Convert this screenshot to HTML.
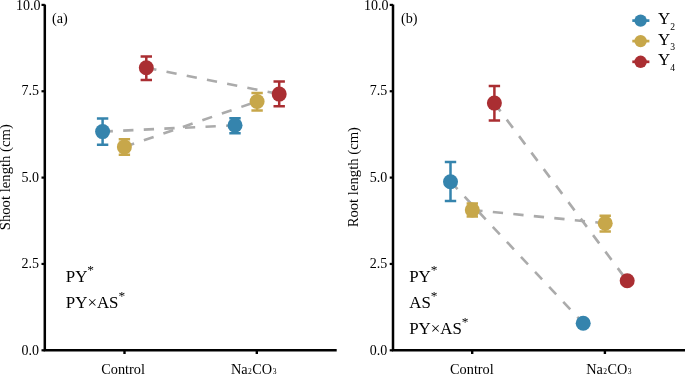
<!DOCTYPE html>
<html><head><meta charset="utf-8"><title>Figure</title>
<style>
html,body{margin:0;padding:0;background:#fff;}
svg{display:block;transform:translateZ(0);will-change:transform;font-family:"Liberation Serif", "DejaVu Serif", serif;fill:#000;}
</style></head>
<body>
<svg width="685" height="375" viewBox="0 0 685 375">
<rect width="685" height="375" fill="#fff"/>
<g>
<line x1="102.6" y1="131.6" x2="235.0" y2="125.3" stroke="#ababab" stroke-width="2.6" stroke-dasharray="10.3 10.3"/>
<line x1="124.4" y1="146.9" x2="257.1" y2="101.5" stroke="#ababab" stroke-width="2.6" stroke-dasharray="10.3 10.3"/>
<line x1="146.3" y1="67.8" x2="279.2" y2="94.1" stroke="#ababab" stroke-width="2.6" stroke-dasharray="10.3 10.3"/>
<path d="M102.6 118.4V144.8M96.9 118.4H108.3M96.9 144.8H108.3" stroke="#3584ad" stroke-width="2.5" fill="none"/>
<circle cx="102.6" cy="131.6" r="7.5" fill="#3584ad"/>
<path d="M235.0 118.2V133.2M229.3 118.2H240.7M229.3 133.2H240.7" stroke="#3584ad" stroke-width="2.5" fill="none"/>
<circle cx="235.0" cy="125.3" r="7.5" fill="#3584ad"/>
<path d="M124.4 139.2V154.8M118.7 139.2H130.1M118.7 154.8H130.1" stroke="#c7a74a" stroke-width="2.5" fill="none"/>
<circle cx="124.4" cy="146.9" r="7.5" fill="#c7a74a"/>
<path d="M257.1 92.9V110.4M251.4 92.9H262.8M251.4 110.4H262.8" stroke="#c7a74a" stroke-width="2.5" fill="none"/>
<circle cx="257.1" cy="101.5" r="7.5" fill="#c7a74a"/>
<path d="M146.3 56.4V80.1M140.6 56.4H152.0M140.6 80.1H152.0" stroke="#aa2e32" stroke-width="2.5" fill="none"/>
<circle cx="146.3" cy="67.8" r="7.5" fill="#aa2e32"/>
<path d="M279.2 81.6V106.3M273.5 81.6H284.9M273.5 106.3H284.9" stroke="#aa2e32" stroke-width="2.5" fill="none"/>
<circle cx="279.2" cy="94.1" r="7.5" fill="#aa2e32"/>
<path d="M44.8 4.4V350.3H336.7" stroke="#000" stroke-width="2.5" fill="none" stroke-linejoin="miter"/>
<line x1="41.5" y1="350.3" x2="44.8" y2="350.3" stroke="#000" stroke-width="2.2"/>
<text x="39.10" y="354.60" font-size="14" text-anchor="end">0.0</text>
<line x1="41.5" y1="263.95" x2="44.8" y2="263.95" stroke="#000" stroke-width="2.2"/>
<text x="39.10" y="268.35" font-size="14" text-anchor="end">2.5</text>
<line x1="41.5" y1="177.6" x2="44.8" y2="177.6" stroke="#000" stroke-width="2.2"/>
<text x="39.10" y="181.60" font-size="14" text-anchor="end">5.0</text>
<line x1="41.5" y1="91.24999999999994" x2="44.8" y2="91.24999999999994" stroke="#000" stroke-width="2.2"/>
<text x="39.10" y="94.95" font-size="14" text-anchor="end">7.5</text>
<line x1="41.5" y1="4.899999999999977" x2="44.8" y2="4.899999999999977" stroke="#000" stroke-width="2.2"/>
<text x="40.40" y="10.30" font-size="14" text-anchor="end">10.0</text>
<line x1="124.5" y1="350.3" x2="124.5" y2="354.0" stroke="#000" stroke-width="2.4"/>
<line x1="256.8" y1="350.3" x2="256.8" y2="354.0" stroke="#000" stroke-width="2.4"/>
<text x="123.1" y="374.2" font-size="14.3" text-anchor="middle">Control</text>
<text x="231.0" y="374.2" font-size="14.3">Na<tspan font-size="7.6" dx="0.4">2</tspan><tspan dx="0.4">CO</tspan><tspan font-size="7.6" dx="0.5">3</tspan></text>
<text transform="translate(10.4 177.2) rotate(-90)" font-size="14.7" text-anchor="middle">Shoot length (cm)</text>
<text x="52" y="22.5" font-size="14.2">(a)</text>
<text x="65.8" y="281.5" font-size="16.9">PY<tspan font-size="13.4" dy="-7.1" dx="-0.1">*</tspan></text>
<text x="65.8" y="307.5" font-size="16.9">PY×AS<tspan font-size="13.4" dy="-7.1" dx="-0.1">*</tspan></text>
</g>
<g>
<line x1="450.5" y1="181.7" x2="583.2" y2="323.2" stroke="#ababab" stroke-width="2.6" stroke-dasharray="10.3 10.3"/>
<line x1="472.3" y1="210" x2="605.2" y2="223.2" stroke="#ababab" stroke-width="2.6" stroke-dasharray="10.3 10.3"/>
<line x1="494.4" y1="103.1" x2="627.2" y2="280.8" stroke="#ababab" stroke-width="2.6" stroke-dasharray="10.3 10.3"/>
<path d="M450.5 162V201.1M444.8 162H456.2M444.8 201.1H456.2" stroke="#3584ad" stroke-width="2.5" fill="none"/>
<circle cx="450.5" cy="181.7" r="7.5" fill="#3584ad"/>
<circle cx="583.2" cy="323.2" r="7.5" fill="#3584ad"/>
<path d="M472.3 203.5V216.5M466.6 203.5H478.0M466.6 216.5H478.0" stroke="#c7a74a" stroke-width="2.5" fill="none"/>
<circle cx="472.3" cy="210" r="7.5" fill="#c7a74a"/>
<path d="M605.2 215.7V231.4M599.5 215.7H610.9M599.5 231.4H610.9" stroke="#c7a74a" stroke-width="2.5" fill="none"/>
<circle cx="605.2" cy="223.2" r="7.5" fill="#c7a74a"/>
<path d="M494.4 86.1V120.4M488.7 86.1H500.1M488.7 120.4H500.1" stroke="#aa2e32" stroke-width="2.5" fill="none"/>
<circle cx="494.4" cy="103.1" r="7.5" fill="#aa2e32"/>
<circle cx="627.2" cy="280.8" r="7.5" fill="#aa2e32"/>
<path d="M393.0 4.4V350.3H685" stroke="#000" stroke-width="2.5" fill="none" stroke-linejoin="miter"/>
<line x1="389.7" y1="350.3" x2="393.0" y2="350.3" stroke="#000" stroke-width="2.2"/>
<text x="387.30" y="354.60" font-size="14" text-anchor="end">0.0</text>
<line x1="389.7" y1="263.95" x2="393.0" y2="263.95" stroke="#000" stroke-width="2.2"/>
<text x="387.30" y="268.35" font-size="14" text-anchor="end">2.5</text>
<line x1="389.7" y1="177.6" x2="393.0" y2="177.6" stroke="#000" stroke-width="2.2"/>
<text x="387.30" y="181.60" font-size="14" text-anchor="end">5.0</text>
<line x1="389.7" y1="91.24999999999994" x2="393.0" y2="91.24999999999994" stroke="#000" stroke-width="2.2"/>
<text x="387.30" y="94.95" font-size="14" text-anchor="end">7.5</text>
<line x1="389.7" y1="4.899999999999977" x2="393.0" y2="4.899999999999977" stroke="#000" stroke-width="2.2"/>
<text x="388.60" y="10.30" font-size="14" text-anchor="end">10.0</text>
<line x1="472.2" y1="350.3" x2="472.2" y2="354.0" stroke="#000" stroke-width="2.4"/>
<line x1="604.9" y1="350.3" x2="604.9" y2="354.0" stroke="#000" stroke-width="2.4"/>
<text x="471.9" y="374.2" font-size="14.3" text-anchor="middle">Control</text>
<text x="586.2" y="374.2" font-size="14.3">Na<tspan font-size="7.6" dx="0.4">2</tspan><tspan dx="0.4">CO</tspan><tspan font-size="7.6" dx="0.5">3</tspan></text>
<text transform="translate(357.9 177.2) rotate(-90)" font-size="14.7" text-anchor="middle">Root length (cm)</text>
<text x="401" y="22.5" font-size="14.2">(b)</text>
<text x="409.2" y="281.5" font-size="16.9">PY<tspan font-size="13.4" dy="-7.1" dx="-0.1">*</tspan></text>
<text x="409.2" y="307.5" font-size="16.9">AS<tspan font-size="13.4" dy="-7.1" dx="-0.1">*</tspan></text>
<text x="409.2" y="333.5" font-size="16.9">PY×AS<tspan font-size="13.4" dy="-7.1" dx="-0.1">*</tspan></text>
</g>
<g>
<line x1="632.3" y1="20.6" x2="649.4" y2="20.6" stroke="#3584ad" stroke-width="2.7"/>
<circle cx="640.6" cy="20.6" r="6.2" fill="#3584ad"/>
<text x="657.9" y="24.1" font-size="16.9">Y<tspan font-size="9.6" dy="5.8" dx="0.2">2</tspan></text>
<line x1="632.3" y1="41.1" x2="649.4" y2="41.1" stroke="#c7a74a" stroke-width="2.7"/>
<circle cx="640.6" cy="41.1" r="6.2" fill="#c7a74a"/>
<text x="657.9" y="44.6" font-size="16.9">Y<tspan font-size="9.6" dy="5.8" dx="0.2">3</tspan></text>
<line x1="632.3" y1="61.8" x2="649.4" y2="61.8" stroke="#aa2e32" stroke-width="2.7"/>
<circle cx="640.6" cy="61.8" r="6.2" fill="#aa2e32"/>
<text x="657.9" y="65.3" font-size="16.9">Y<tspan font-size="9.6" dy="5.8" dx="0.2">4</tspan></text>
</g>
</svg>
</body></html>
